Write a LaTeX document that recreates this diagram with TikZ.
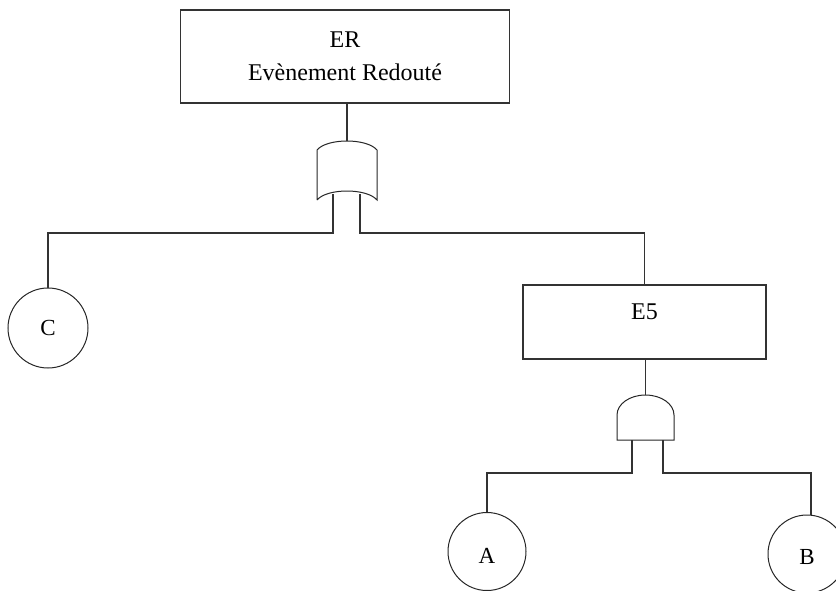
\documentclass[tikz,border=0pt]{standalone}
\usepackage{fontspec}
\setmainfont{Liberation Serif}
\begin{document}
\begin{tikzpicture}[x=1pt, y=1pt, line join=miter,
    evt/.style={draw=black!80, line width=1.6pt, inner sep=0pt},
    base/.style={draw=black!85, line width=1pt, circle, inner sep=0pt,
        minimum size=#1, font=\fontsize{23}{26}\selectfont},
    base/.default=78,
    lien/.style={draw=black!80, line width=1.5pt},
    porte/.style={draw=black!85, line width=1pt}]
    \useasboundingbox (0, 0) rectangle (836, -590);
    % events
    \node[evt, minimum width=329, minimum height=93,
        label={[anchor=north, yshift=-19, align=center,
        font=\fontsize{24}{33}\selectfont]north:ER\\Evènement Redouté}]
        (er) at (345, -56.5) {};
    \node[evt, minimum width=243, minimum height=74,
        label={[anchor=north, yshift=-16,
        font=\fontsize{24}{27}\selectfont]north:E5}]
        (e5) at (644.5, -322) {};
    \node[base=80] (c) at (48, -328) {C};
    \node[base] (a) at (487, -551.5) {\raisebox{-4pt}[\height][0pt]{A}};
    \node[base] (b) at (807, -554) {\raisebox{-3pt}[\height][0pt]{B}};
    % OR gate
    \draw[porte] (317, -200) -- (317, -150)
        .. controls (327, -138) and (367, -138) .. (377, -150)
        -- (377, -200)
        .. controls (367, -188) and (327, -188) .. (317, -200);
    \coordinate (ou) at (347, -141);
    \coordinate (ouG) at (333, -194);
    \coordinate (ouD) at (360, -194);
    % AND gate
    \draw[porte] (617, -440) -- (617, -415)
        arc[start angle=180, end angle=0, x radius=28.5, y radius=20]
        -- (674, -440) -- cycle;
    \coordinate (et) at (645.5, -395);
    \coordinate (etG) at (632, -440);
    \coordinate (etD) at (663, -440);
    % links
    \draw[lien] (er.south -| ou) -- (ou);
    \draw[lien] (ouG) -- ++(0, -39) -| (c.north);
    \draw[lien] (ouD) -- ++(0, -39) -| (e5.north);
    \draw[lien] (e5.south -| et) -- (et);
    \draw[lien] (etG) -- ++(0, -33) -| (a.north);
    \draw[lien] (etD) -- ++(0, -33) -| ([xshift=4]b.north);
\end{tikzpicture}
\end{document}
